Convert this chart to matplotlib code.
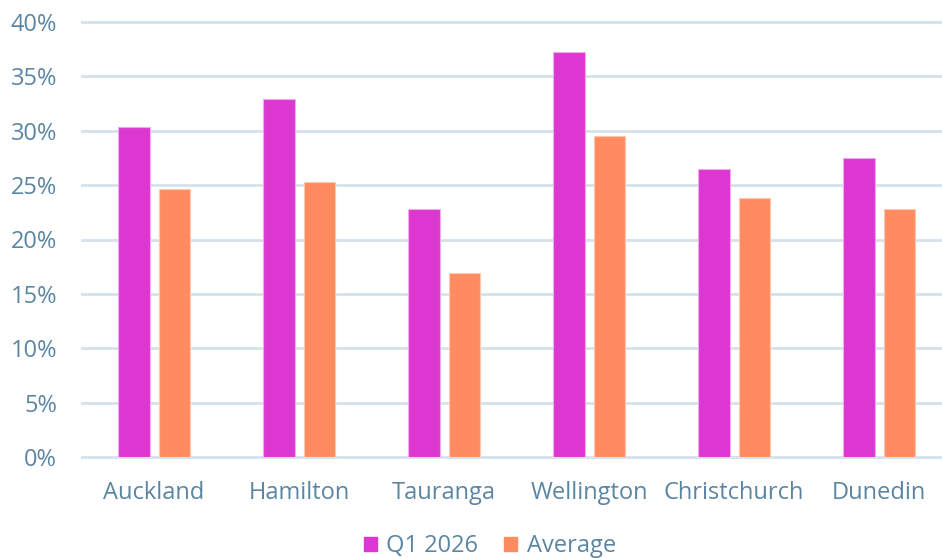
import numpy as np
import matplotlib.pyplot as plt
from matplotlib.patches import Patch

cities = ["Auckland", "Hamilton", "Tauranga", "Wellington", "Christchurch", "Dunedin"]
q1_2026 = [30.3, 32.9, 22.8, 37.2, 26.5, 27.5]
average = [24.6, 25.3, 16.9, 29.5, 23.8, 22.8]
y_ticks = [0, 5, 10, 15, 20, 25, 30, 35, 40]

magenta = "#dc37d0"
orange = "#ff8c61"
text_col = "#5b86a3"
grid_col = "#d6e1ea"

plt.rcParams['font.family'] = ['Open Sans', 'DejaVu Sans']

fig = plt.figure(figsize=(9.42, 5.58), dpi=100)
ax = fig.add_axes([82 / 942, 101 / 558, 1 - 82 / 942, 435 / 558])

x = np.arange(len(cities))
w = 0.22
off = 0.141
ax.bar(x - off, q1_2026, w, color=magenta, edgecolor="#f2a8ec", linewidth=0.8, zorder=3)
ax.bar(x + off, average, w, color=orange, edgecolor="#ffc7b0", linewidth=0.8, zorder=3)

ax.set_xlim(-0.497, 5.434)
ax.set_ylim(0, 40)
ax.set_yticks(y_ticks)
ax.set_yticklabels([f"{t}%" for t in y_ticks])
ax.set_xticks(x)
ax.set_xticklabels(cities)

ax.grid(axis="y", color=grid_col, linewidth=2, zorder=0)
for line in ax.get_ygridlines():
    line.set_clip_on(False)
for s in ax.spines.values():
    s.set_visible(False)
ax.tick_params(axis="both", length=0, labelsize=17, colors=text_col)
ax.tick_params(axis="y", pad=18)
ax.tick_params(axis="x", pad=17.5)

handles = [Patch(color=magenta, label="Q1 2026"), Patch(color=orange, label="Average")]
leg = fig.legend(handles=handles, loc="lower center", bbox_to_anchor=(490 / 942, 0.0),
                 ncol=2, frameon=False, fontsize=17, handlelength=0.55, handleheight=0.55,
                 handletextpad=0.4, columnspacing=1.1, borderaxespad=0, borderpad=0)
for t in leg.get_texts():
    t.set_color(text_col)

fig.savefig("out.png", dpi=100)
